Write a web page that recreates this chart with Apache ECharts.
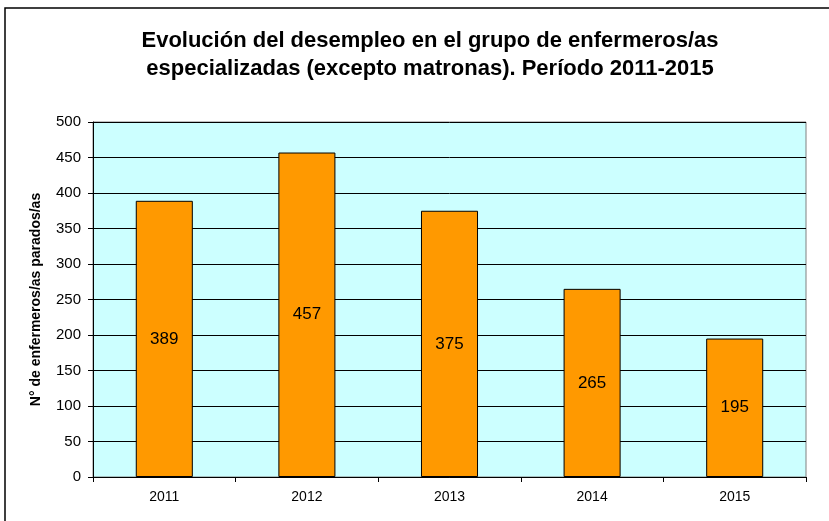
<!DOCTYPE html>
<html>
<head>
<meta charset="utf-8">
<script src="https://cdn.jsdelivr.net/npm/echarts@6/dist/echarts.min.js"></script>
<style>
html, body { margin: 0; padding: 0; background: #fff; }
#chart { width: 829px; height: 521px; }
</style>
</head>
<body>
<div id="chart"></div>
<script>
var years = ['2011', '2012', '2013', '2014', '2015'];
var parados = [389, 457, 375, 265, 195];

var myChart = echarts.init(document.getElementById('chart'));
var option = {
    animation: false,
    textStyle: { fontFamily: 'Liberation Sans, Arial, sans-serif' },
    title: {
        text: 'Evolución del desempleo en el grupo de enfermeros/as\nespecializadas (excepto matronas). Período 2011-2015',
        left: 425,
        top: 22,
        textAlign: 'center',
        textStyle: {
            fontSize: 22,
            fontWeight: 'bold',
            color: '#000',
            lineHeight: 28,
            fontFamily: 'Liberation Sans, Arial, sans-serif'
        }
    },
    graphic: [
        {
            type: 'rect',
            shape: { x: 5, y: 8, width: 830, height: 520 },
            style: { fill: 'none', stroke: '#000', lineWidth: 1.5 },
            silent: true
        }
    ],
    grid: {
        left: 93,
        right: 23,
        top: 122,
        bottom: 44,
        show: true,
        backgroundColor: '#CCFFFF',
        borderColor: '#808080',
        borderWidth: 1
    },
    xAxis: {
        type: 'category',
        data: years,
        axisLine: { lineStyle: { color: '#000', width: 1 } },
        axisTick: { show: true, length: 5, lineStyle: { color: '#000' } },
        axisLabel: { color: '#000', fontSize: 14, margin: 13 }
    },
    yAxis: {
        type: 'value',
        min: 0,
        max: 500,
        interval: 50,
        name: 'N° de enfermeros/as parados/as',
        nameLocation: 'middle',
        nameGap: 50,
        nameTextStyle: { fontSize: 14, fontWeight: 'bold', color: '#000' },
        axisLine: { show: true, lineStyle: { color: '#000', width: 1 } },
        axisTick: { show: true, length: 5, lineStyle: { color: '#000' } },
        axisLabel: { color: '#000', fontSize: 15, margin: 12 },
        splitLine: { show: true, lineStyle: { color: '#000', width: 1 } }
    },
    series: [
        {
            type: 'bar',
            data: parados,
            barWidth: '40%',
            itemStyle: { color: '#FF9900', borderColor: '#000', borderWidth: 1 },
            label: {
                show: true,
                position: 'inside',
                color: '#000',
                fontSize: 17
            }
        }
    ]
};
myChart.setOption(option);
</script>
</body>
</html>
